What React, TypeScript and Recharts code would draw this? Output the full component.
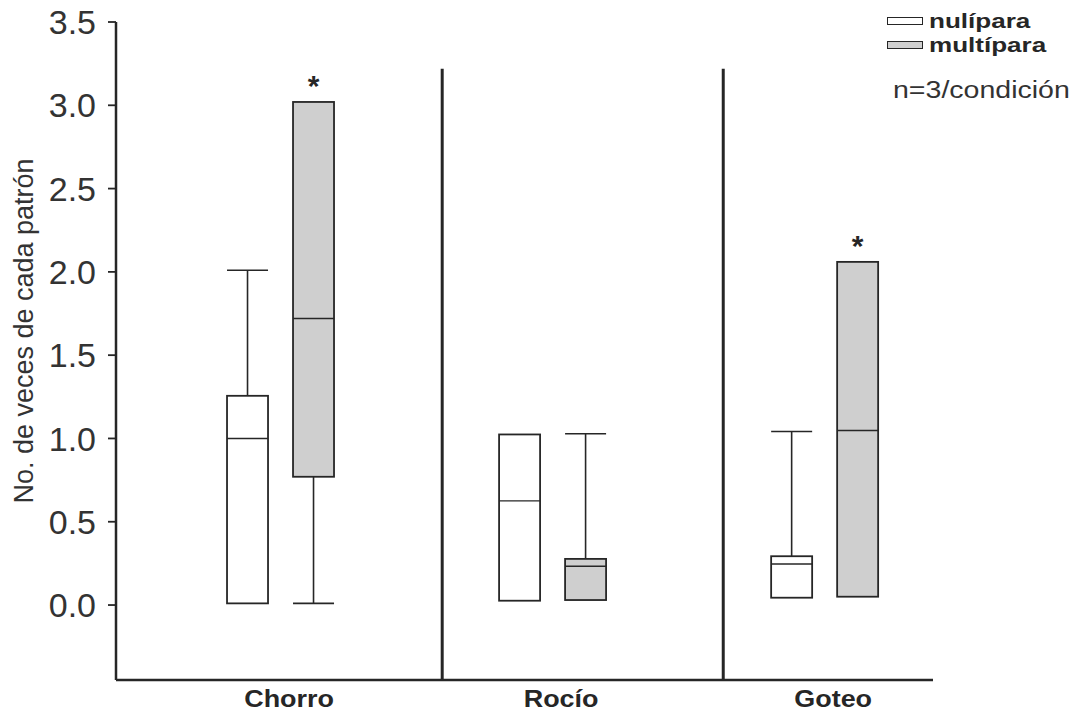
import React from "react";
import { ComposedChart, Bar, XAxis, YAxis, ReferenceLine, Legend } from "recharts";

const categories = ["Chorro", "Rocío", "Goteo"];
const positions = [1, 2, 3];
const seriesNames = ["nulípara", "multípara"];

// nulípara box plots
const nuliparaMin = [0.01, 0.026, 0.044];
const nuliparaQ1 = [0.01, 0.026, 0.044];
const nuliparaMedian = [1.0, 0.625, 0.246];
const nuliparaQ3 = [1.256, 1.024, 0.293];
const nuliparaMax = [2.01, 1.024, 1.042];
const nuliparaSig = [false, false, false];

// multípara box plots
const multiparaMin = [0.01, 0.03, 0.05];
const multiparaQ1 = [0.77, 0.03, 0.05];
const multiparaMedian = [1.72, 0.233, 1.048];
const multiparaQ3 = [3.02, 0.277, 2.06];
const multiparaMax = [3.02, 1.028, 2.06];
const multiparaSig = [true, false, true];

const yTicks = [0, 0.5, 1, 1.5, 2, 2.5, 3, 3.5];
const separators = [1.596, 2.629];

const FONT = '"Liberation Sans", Arial, Helvetica, sans-serif';
const INK = "#262626";

const data = positions.map((pos, i) => ({
  pos,
  name: categories[i],
  nuli: [nuliparaQ1[i], nuliparaQ3[i]],
  nuliStats: {
    min: nuliparaMin[i],
    q1: nuliparaQ1[i],
    median: nuliparaMedian[i],
    q3: nuliparaQ3[i],
    max: nuliparaMax[i],
    sig: nuliparaSig[i],
  },
  multi: [multiparaQ1[i], multiparaQ3[i]],
  multiStats: {
    min: multiparaMin[i],
    q1: multiparaQ1[i],
    median: multiparaMedian[i],
    q3: multiparaQ3[i],
    max: multiparaMax[i],
    sig: multiparaSig[i],
  },
}));

// box drawn from the bar rectangle the library scaled for [q1, q3];
// whiskers and median follow the same linear scale
function makeBox(statsKey: string) {
  return (props: any) => {
    const { x, y, width, height, payload, fill } = props;
    const s = payload[statsKey];
    const top = Math.min(y, y + height);
    const h = Math.abs(height);
    const perUnit = h / (s.q3 - s.q1);
    const toY = (v: number) => top + (s.q3 - v) * perUnit;
    const cx = x + width / 2;
    const yMax = toY(s.max);
    const yMin = toY(s.min);
    return (
      <g>
        {s.max > s.q3 && (
          <g stroke={INK} strokeWidth={1.6}>
            <line x1={cx} x2={cx} y1={top} y2={yMax} />
            <line x1={x} x2={x + width} y1={yMax} y2={yMax} />
          </g>
        )}
        {s.min < s.q1 && (
          <g stroke={INK} strokeWidth={1.6}>
            <line x1={cx} x2={cx} y1={top + h} y2={yMin} />
            <line x1={x} x2={x + width} y1={yMin} y2={yMin} />
          </g>
        )}
        <rect x={x} y={top} width={width} height={h} fill={fill} stroke={INK} strokeWidth={1.8} />
        <line x1={x} x2={x + width} y1={toY(s.median)} y2={toY(s.median)} stroke={INK} strokeWidth={1.4} />
        {s.sig && (
          <text x={cx} y={Math.min(yMax, top) - 6} textAnchor="middle" fontFamily={FONT} fontWeight="bold" fontSize={30} fill={INK}>
            *
          </text>
        )}
      </g>
    );
  };
}

function CategoryTick({ x, y, payload }: any) {
  return (
    <g transform={`translate(${x + 9},${y})`}>
      <text
        transform="scale(1.17,1)"
        textAnchor="middle"
        dy={27}
        fontFamily={FONT}
        fontSize={23}
        fontWeight="bold"
        fill={INK}
      >
        {categories[payload.value - 1]}
      </text>
    </g>
  );
}

function LegendBox({ payload }: any) {
  const items = [...(payload || [])].sort(
    (a: any, b: any) => seriesNames.indexOf(a.value) - seriesNames.indexOf(b.value)
  );
  return (
    <div style={{ fontFamily: FONT, color: INK }}>
      {items.map((item: any) => (
        <div key={item.value} style={{ display: "flex", alignItems: "center", height: 24 }}>
          <span
            style={{
              display: "inline-block",
              width: 34,
              height: 6,
              background: item.color,
              border: `1.5px solid ${INK}`,
              marginRight: 6,
            }}
          />
          <span
            style={{
              fontWeight: "bold",
              fontSize: 21,
              lineHeight: "22px",
              display: "inline-block",
              transform: "scaleX(1.24)",
              transformOrigin: "left center",
            }}
          >
            {item.value}
          </span>
        </div>
      ))}
      <div
        style={{
          fontSize: 23,
          lineHeight: "26px",
          marginTop: 20,
          marginLeft: 6,
          color: "#333",
          transform: "scaleX(1.24)",
          transformOrigin: "left center",
          whiteSpace: "nowrap",
        }}
      >
        n=3/condición
      </div>
    </div>
  );
}

export default function App() {
  return (
    <div style={{ width: 1076, height: 711, background: "#fff" }}>
      <style>{"body{margin:0}"}</style>
      <ComposedChart
        width={1076}
        height={711}
        data={data}
        margin={{ top: 22, right: 143, bottom: 1, left: 16 }}
        barSize={41}
        barGap={25}
      >
        <XAxis
          type="number"
          dataKey="pos"
          domain={[0.397, 3.4]}
          ticks={positions}
          tick={<CategoryTick />}
          tickLine={false}
          tickSize={0}
          tickMargin={0}
          axisLine={{ stroke: INK, strokeWidth: 2.5 }}
          height={30}
          allowDecimals
        />
        <YAxis
          type="number"
          domain={[-0.45, 3.5]}
          ticks={yTicks}
          tickFormatter={(v: number) => v.toFixed(1)}
          width={100}
          tickSize={8}
          tickMargin={12}
          tickLine={{ stroke: INK, strokeWidth: 1.8 }}
          axisLine={{ stroke: INK, strokeWidth: 2.5 }}
          tick={{ fontFamily: FONT, fontSize: 34, fill: "#333" }}
          allowDataOverflow
          label={{
            content: (p: any) => {
              const vb = p.viewBox;
              const lx = vb.x + 8;
              const ly = vb.y + vb.height / 2 - 20;
              return (
                <text
                  x={lx}
                  y={ly}
                  transform={`rotate(-90, ${lx}, ${ly})`}
                  textAnchor="middle"
                  dominantBaseline="central"
                  fontFamily={FONT}
                  fontSize={27}
                  fill="#333"
                >
                  No. de veces de cada patrón
                </text>
              );
            },
          }}
        />
        {separators.map((s) => (
          <ReferenceLine
            key={s}
            segment={[
              { x: s, y: -0.45 },
              { x: s, y: 3.22 },
            ]}
            stroke={INK}
            strokeWidth={3}
          />
        ))}
        <Bar dataKey="nuli" name={seriesNames[0]} fill="#ffffff" shape={makeBox("nuliStats")} isAnimationActive={false} />
        <Bar dataKey="multi" name={seriesNames[1]} fill="#cfcfcf" shape={makeBox("multiStats")} isAnimationActive={false} />
        <Legend
          layout="horizontal"
          align="center"
          verticalAlign="middle"
          wrapperStyle={{ top: 9, left: 887, width: 189 }}
          content={<LegendBox />}
        />
      </ComposedChart>
    </div>
  );
}
